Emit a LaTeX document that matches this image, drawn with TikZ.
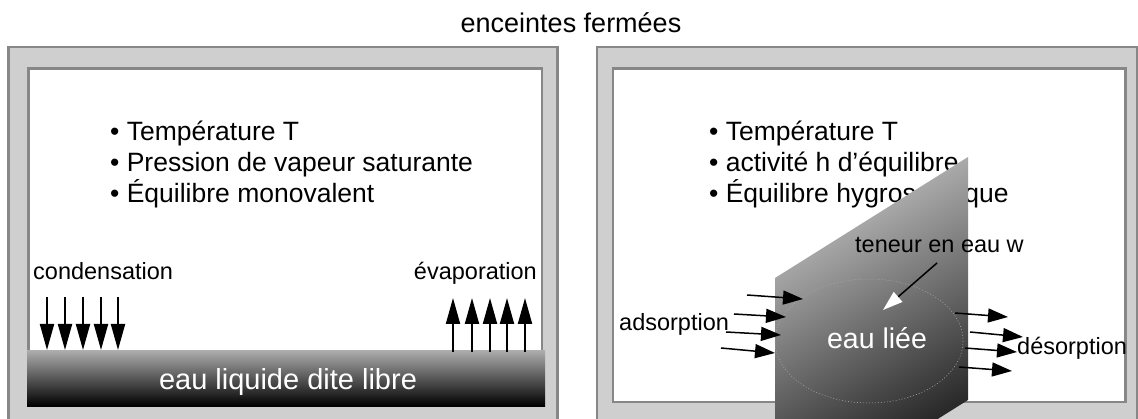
\documentclass[tikz,border=0pt]{standalone}
\usepackage{fontspec}
\setmainfont{Liberation Sans}
\usetikzlibrary{arrows.meta}
\tikzset{
Enceinte/.style={
 draw=black!47,
 fill=black!19,
 line width=2.5pt
 },
Interieur/.style={
 draw=black!47,
 fill=white,
 line width=2.5pt
 },
VFleche/.style={
 draw=black,
 line width=2pt,
 -{Triangle[length=26pt,width=14pt]}
 },
HFleche/.style={
 draw=black,
 line width=1.5pt,
 -{Triangle[length=20pt,width=14pt]}
 },
Puce/.style={
 anchor=base west,
 inner sep=0pt,
 font=\fontsize{26.5}{31.5}\selectfont
 },
Legende/.style={
 inner sep=0pt,
 font=\fontsize{23.5}{28}\selectfont
 }
}

\begin{document}
\begin{tikzpicture}[x=1pt,y=-1pt]
\useasboundingbox (0,0) rectangle (1138,419);
% titre
\node[inner sep=0pt,anchor=base,font=\fontsize{27}{32}\selectfont] (titre) at (571,33) {enceintes fermées};
% enceinte de gauche : eau libre
\draw[Enceinte] (8.5,47) rectangle (557.5,430);
\draw[Interieur] (28.5,68.5) rectangle (542,404);
\foreach \t [count=\i] in {Température T,Pression de vapeur saturante,Équilibre monovalent}
 \node[Puce] (pg\i) at (110,110+31*\i) {• \t};
\node[Legende,anchor=base west] (cond) at (33,280) {condensation};
\node[Legende,anchor=base east] (evap) at (537,280) {évaporation};
\node[anchor=north west,inner sep=0pt,minimum width=518pt,minimum height=56pt,
 top color=black!32,bottom color=black] (eau) at (27,350) {};
\node[inner sep=0pt,anchor=base,text=white,font=\fontsize{29}{34}\selectfont] (libre) at (288,390) {eau liquide dite libre};
\foreach \x [count=\i] in {47,65,83,101,118} {
 \coordinate (cd\i) at (\x,297);
 \draw[VFleche] (cd\i) -- (cd\i |- eau.north);
}
\foreach \x [count=\i] in {453,472,490,507,525} {
 \coordinate (ev\i) at (\x,298);
 \draw[VFleche] ([yshift=-2pt]ev\i |- eau.north) -- (ev\i);
}
% enceinte de droite : eau liee
\draw[Enceinte] (597,47) rectangle (1137,430);
\draw[Interieur] (613,68.5) rectangle (1125.5,402);
\foreach \t [count=\i] in {Température T,activité h d’équilibre,Équilibre hygroscopique}
 \node[Puce] (pd\i) at (709,110+31*\i) {• \t};
\shade[top color=black!24,middle color=black!52,bottom color=black!96,shading angle=30]
 (775,278) -- (968,157) -- (968,400) -- (775,521) -- cycle;
\draw[black!32,line width=0.5pt,dash pattern=on 1pt off 2pt] (869,341) ellipse [x radius=94,y radius=62];
\node[Legende,anchor=base west] (teneur) at (855,253) {teneur en eau w};
\coordinate (w1) at (937,263);
\coordinate (w2) at (883,310);
\draw[black,line width=1.5pt,-{Triangle[length=20pt,width=13pt,color=white]}] (w1) -- (w2);
\node[inner sep=0pt,anchor=base,text=white,font=\fontsize{28.5}{34}\selectfont] (liee) at (877,349) {eau liée};
\node[Legende,anchor=base west] (ads) at (619,331) {adsorption};
\node[Legende,anchor=base west] (des) at (1017,355) {désorption};
\foreach \xa/\ya/\xb/\yb [count=\i] in {747/295/803/299,734/314/786/317,726/332/781/335,721/348/775/353} {
 \coordinate (ai\i) at (\xa,\ya);
 \coordinate (af\i) at (\xb,\yb);
 \draw[HFleche] (ai\i) -- (af\i);
}
\foreach \xa/\ya/\xb/\yb [count=\i] in {955/313/1008/317,970/332/1023/337,965/348/1017/352,959/367/1012/371} {
 \coordinate (di\i) at (\xa,\ya);
 \coordinate (df\i) at (\xb,\yb);
 \draw[HFleche] (di\i) -- (df\i);
}
\end{tikzpicture}
\end{document}
